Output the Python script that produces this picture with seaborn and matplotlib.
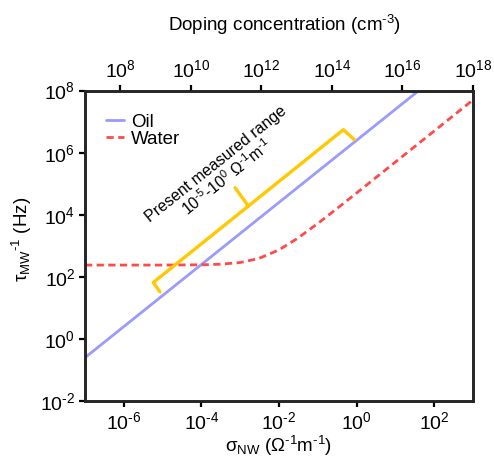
import matplotlib
matplotlib.use("Agg")
import matplotlib.pyplot as plt
import seaborn as sns
import numpy as np
import pandas as pd

# ---- data ----
oil_sigma = [1e-7, 1e-4, 1e-1, 40]
oil_rate = [0.25, 250, 2.5e5, 1e8]

water_sigma = [1e-7, 1e-5, 1e-4, 3e-4, 1e-3, 3e-3, 1e-2, 3e-2, 1e-1, 3e-1, 1, 10, 100, 1000]
water_rate = [240, 240, 245, 255, 290, 390, 740, 1740, 5240, 15240, 50240, 5.0e5, 5.0e6, 5.0e7]

x_ticks = [1e-6, 1e-4, 1e-2, 1e0, 1e2]
x_tick_labels = [r"$10^{\text{-}6}$", r"$10^{\text{-}4}$", r"$10^{\text{-}2}$", r"$10^{0}$", r"$10^{2}$"]
y_ticks = [1e-2, 1e0, 1e2, 1e4, 1e6, 1e8]
y_tick_labels = [r"$10^{\text{-}2}$", r"$10^{0}$", r"$10^{2}$", r"$10^{4}$", r"$10^{6}$", r"$10^{8}$"]
top_ticks = [1e8, 1e10, 1e12, 1e14, 1e16, 1e18]
top_tick_labels = [r"$10^{8}$", r"$10^{10}$", r"$10^{12}$", r"$10^{14}$", r"$10^{16}$", r"$10^{18}$"]

# bracket (log10 coordinates of annotation)
bracket_x = [-5.07, -5.24, -0.34, -0.06]
bracket_y = [1.52, 1.82, 6.74, 6.42]
nub_x = [-2.79, -3.13]
nub_y = [4.28, 4.87]

sns.set_style("ticks")
plt.rcParams['font.family'] = ['Liberation Sans', 'DejaVu Sans']
plt.rcParams['mathtext.fontset'] = 'custom'
plt.rcParams['mathtext.rm'] = 'Liberation Sans'
plt.rcParams['mathtext.it'] = 'Liberation Sans:italic'
plt.rcParams['mathtext.bf'] = 'Liberation Sans:bold'
plt.rcParams['axes.unicode_minus'] = False
plt.rcParams['text.color'] = 'black'
plt.rcParams['axes.labelcolor'] = 'black'

fig = plt.figure(figsize=(4.94, 4.61), dpi=100)
ax = fig.add_axes([0.172, 0.130, 0.7855, 0.6735])

oil_df = pd.DataFrame({"sigma": oil_sigma, "rate": oil_rate})
water_df = pd.DataFrame({"sigma": water_sigma, "rate": water_rate})

sns.lineplot(data=oil_df, x="sigma", y="rate", ax=ax, color="#9a9aff", lw=2, label="Oil", sort=False)
sns.lineplot(data=water_df, x="sigma", y="rate", ax=ax, color="#ff4a4a", lw=2, ls=(0, (2.6, 1.6)),
             label="Water", sort=False)

ax.set_xscale("log")
ax.set_yscale("log")
ax.set_xlim(1e-7, 1e3)
ax.set_ylim(1e-2, 1e8)
ax.set_xticks(x_ticks, x_tick_labels)
ax.set_yticks(y_ticks, y_tick_labels)
ax.minorticks_off()

# bracket
ax.plot(10 ** np.array(bracket_x), 10 ** np.array(bracket_y), color="#ffc800", lw=2.4,
        solid_joinstyle="round", solid_capstyle="round")
ax.plot(10 ** np.array(nub_x), 10 ** np.array(nub_y), color="#ffc800", lw=2.4, solid_capstyle="round")

ax.text(10 ** -3.47, 10 ** 5.40,
        "Present measured range\n$10^{\\text{-}5}$-$10^{0}$ Ω$^{\\text{-}1}$m$^{\\text{-}1}$",
        rotation=38.7, rotation_mode="anchor", ha="center", va="center",
        fontsize=11.5, linespacing=1.0, color="black")

for sp in ax.spines.values():
    sp.set_linewidth(1.8)
    sp.set_color("black")
ax.tick_params(axis="both", which="both", direction="out", length=4, width=1.6,
               labelsize=14, colors="black", right=False, top=False, pad=3)

ax.set_xlabel("σ$_{\\mathrm{NW}}$ (Ω$^{\\text{-}1}$m$^{\\text{-}1}$)", fontsize=13.5, labelpad=1)
ax.set_ylabel("τ$_{\\mathrm{MW}}$$^{\\text{-}1}$ (Hz)", fontsize=13.5, labelpad=4)
ax.yaxis.label.set_y(0.52)

leg = ax.legend(loc="upper left", frameon=False, fontsize=13.5, handlelength=0.95,
                handletextpad=0.4, labelspacing=0.0, bbox_to_anchor=(0.035, 0.95), borderaxespad=0)

top = ax.twiny()
top.set_xscale("log")
top.set_xlim(1e7, 1e18)
top.set_xticks(top_ticks, top_tick_labels)
top.minorticks_off()
top.tick_params(axis="x", direction="out", length=4, width=1.6, labelsize=14, colors="black", pad=3)
top.set_xlabel("Doping concentration (cm$^{\\text{-}3}$)", fontsize=13.5, labelpad=20)
top.xaxis.label.set_x(0.514)
for sp in top.spines.values():
    sp.set_linewidth(1.8)

fig.savefig("out.png", dpi=100)
